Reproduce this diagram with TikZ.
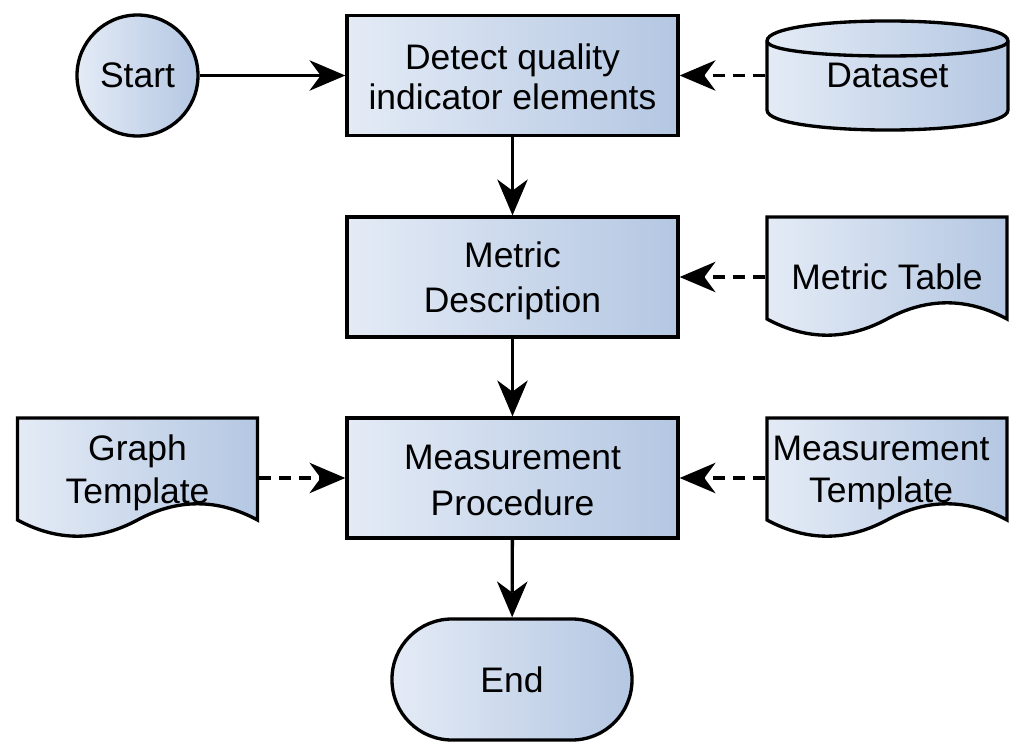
\documentclass[tikz,border=0pt]{standalone}
\usepackage{fontspec}
\setmainfont{Liberation Sans}
\usetikzlibrary{arrows.meta,calc}
\definecolor{gl}{HTML}{E4EBF6}
\definecolor{gr}{HTML}{B4C7E2}
\begin{document}
\begin{tikzpicture}[x=0.75pt,y=-0.75pt,
  every node/.style={font=\fontsize{26.6pt}{32pt}\selectfont, align=center, inner sep=0pt},
  lw/.style={line width=2.5pt},
  grad/.style={left color=gl,right color=gr},
  procbox/.style={draw, lw, grad, minimum width=248.25pt, minimum height=90pt},
  startc/.style={circle, draw, lw, grad, minimum size=90.75pt},
  flow/.style={lw, -{Stealth[length=27pt,width=23pt,inset=8.5pt,line width=0pt]}},
  dataflow/.style={flow, dash pattern=on 9pt off 6pt},
  docpic/.pic={
    \path[draw,lw,grad,line join=miter] (0,0) -- (240,0) -- (240,102)
      .. controls (200,80.4) and (160,80.4) .. (120,102)
      .. controls (80,123.6) and (40,123.6) .. (0,102) -- cycle;
  }
]
\useasboundingbox (0,0) rectangle (1026,756);

% start
\node[startc] (start) at (137.5,75.5) {Start};

% process boxes
\node[procbox, font=\fontsize{26.6pt}{30pt}\selectfont, text height=51pt, text depth=0pt] (b1) at (512.5,75.5) {Detect quality\\indicator elements};
\node[procbox, font=\fontsize{26.6pt}{34pt}\selectfont, text height=54pt, text depth=0pt] (b2) at (512.5,277) {Metric\\Description};
\node[procbox, font=\fontsize{26.6pt}{34pt}\selectfont, text height=55.5pt, text depth=0pt] (b3) at (512.5,478) {Measurement\\Procedure};

% end terminator
\node[draw, lw, grad, rounded corners=45pt, minimum width=180pt, minimum height=90.75pt] (end) at (512,679.5) {End};

% dataset cylinder
\path[draw,lw,grad] (767,41) .. controls (767,14.3) and (1008,14.3) .. (1008,41)
  -- (1008,110) .. controls (1008,136.7) and (767,136.7) .. (767,110) -- cycle;
\draw[lw] (767,41) .. controls (767,61) and (1008,61) .. (1008,41);
\node[lw, minimum width=180.75pt, minimum height=81.75pt] (ds) at (887.5,75.5) {Dataset};

% documents
\pic at (767,217) {docpic};
\node[lw, minimum width=180pt, minimum height=90pt] (mt) at (887,277) {Metric Table};

\pic at (767,418) {docpic};
\node[lw, minimum width=180pt, minimum height=90pt] (mtp) at (887,478) {};
\node (mtpl) at (881,473) {Measurement\\Template};

\pic at (17.5,418) {docpic};
\node[lw, minimum width=180pt, minimum height=90pt] (gt) at (137.5,478) {};
\node (gtl) at (137.5,473) {Graph\\Template};

% connectors
\draw[flow] (start) -- (b1);
\draw[flow] (b1) -- (b2);
\draw[flow] (b2) -- (b3);
\draw[flow] (b3) -- (end);
\draw[dataflow] (ds) -- (b1);
\draw[dataflow] (mt) -- (b2);
\draw[dataflow] (mtp) -- (b3);
\draw[dataflow] (gt) -- (b3);
\end{tikzpicture}
\end{document}
